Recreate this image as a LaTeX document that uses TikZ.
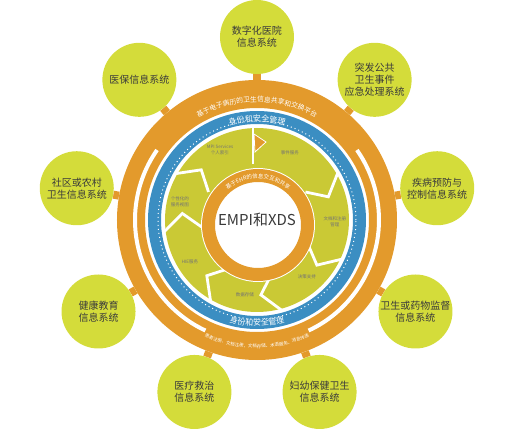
\documentclass[tikz,border=0pt]{standalone}
\usepackage{fontspec}
\setmainfont{Noto Sans CJK SC}
\usetikzlibrary{decorations.text}
\definecolor{satyellow}{HTML}{D4DC3A}
\definecolor{segyellow}{HTML}{CAC935}
\definecolor{ringorange}{HTML}{E39A2C}
\definecolor{ringblue}{HTML}{3B8EC2}
\definecolor{textgray}{HTML}{3A3A3A}
\begin{document}
\begin{tikzpicture}[x=1pt,y=1pt,
  sys/.style={circle,fill=satyellow,minimum size=74pt,inner sep=0pt,align=center,font=\fontsize{10}{12}\selectfont,text=textgray},
  seg/.style={font=\fontsize{4.5}{5.5}\selectfont,text=black!55,align=center},
  stub/.style={ringorange,line width=8pt},
  cut/.style={white,line width=2.8pt,line join=miter}
  ]
  \useasboundingbox (-257,-219) rectangle (266,220);
  % outer rings
  \draw[ringorange,line width=28pt] (0,0) circle (126);
  \draw[white,line width=4pt] (145:122) arc (145:245:122);
  \draw[white,line width=4pt] (-65:122) arc (-65:35:122);
  \draw[ringblue,line width=13pt] (0,0) circle (102.5);
  \draw[white,line width=1pt,dash pattern=on 1pt off 3pt] (0,0) circle (99);
  % yellow segments
  \fill[segyellow] (0,0) circle (92);
  \foreach \a in {30,-25,-75,-120,187,150}
    \draw[cut] (\a:93) -- (\a-12:75) -- (\a:56);
  \draw[cut] (-4,93) -- (-4,56);
  \fill[ringorange,draw=white,line width=0.8pt] (-3,86) -- (9,78) -- (-2,68) -- cycle;
  % inner ring
  \begin{scope}[shift={(1,-5)}]
    \fill[white] (0,0) circle (57);
    \draw[ringorange,line width=13pt] (0,0) circle (49.5);
    \path[decorate,decoration={text along path,text align=center,text color=white,
      text={|\fontsize{5.5}{5.5}\selectfont|基于EHR的信息交互和共享}}] (145:46.5) arc (145:35:46.5);
  \end{scope}
  \node[font=\fontsize{15}{15}\selectfont,text=textgray] (core) at (0,0) {EMPI和XDS};
  % ring texts
  \path[decorate,decoration={text along path,text align=center,text color=white,
    text={|\fontsize{6.8}{6.8}\selectfont|基于电子病历的卫生信息共享和交换平台}}] (124:118) arc (124:56:118);
  \path[decorate,decoration={text along path,text align=center,text color=white,
    text={|\fontsize{8}{8}\selectfont|身份和安全管理}}] (125:98.5) arc (125:55:98.5);
  \path[decorate,decoration={text along path,text align=center,text color=white,
    text={|\fontsize{8}{8}\selectfont|身份和安全管理}}] (-125:106) arc (-125:-55:106);
  \path[decorate,decoration={text along path,text align=center,text color=white,
    text={|\fontsize{4.5}{4.5}\selectfont|患者注册、文档注册、文档存储、术语服务、消息传递}}] (-118:128) arc (-118:-62:128);
  % segment labels
  \node[seg] (mpi) at (-37,70) {MPI Services\\个人索引};
  \node[seg] (event) at (33,67) {事件服务};
  \node[seg] (docreg) at (78,-2) {文档和注册\\管理};
  \node[seg] (decide) at (50,-57) {决策支持};
  \node[seg] (store) at (-12,-75) {数据存储};
  \node[seg] (hie) at (-67,-42) {HIE服务};
  \node[seg] (view) at (-77,18) {个性化的\\服务视图};
  % systems
  \node[circle,minimum size=280pt,inner sep=0pt] (ring) at (0,0) {};
  \node[sys] (hosp) at (90:183) {数字化医院\\信息系统};
  \node[sys] (emerg) at (50:183) {突发公共\\卫生事件\\应急处理系统};
  \node[sys] (cdc) at (10:183) {疾病预防与\\控制信息系统};
  \node[sys] (superv) at (-30:183) {卫生或药物监督\\信息系统};
  \node[sys] (mch) at (-70:183) {妇幼保健卫生\\信息系统};
  \node[sys] (treat) at (-110:183) {医疗救治\\信息系统};
  \node[sys] (edu) at (-150:183) {健康教育\\信息系统};
  \node[sys] (comm) at (170:183) {社区或农村\\卫生信息系统};
  \node[sys] (insur) at (130:183) {医保信息系统};
  \foreach \s in {hosp,emerg,cdc,superv,mch,treat,edu,comm,insur}
    \draw[stub] (ring) -- (\s);
\end{tikzpicture}
\end{document}
